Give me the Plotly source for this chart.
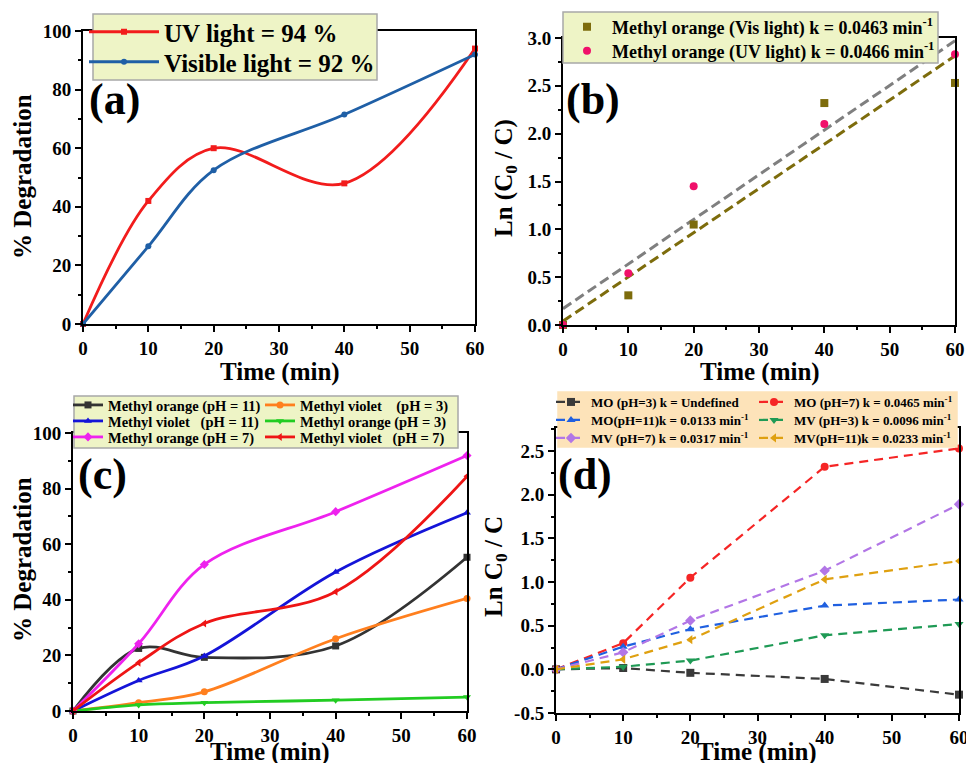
import plotly.graph_objects as go
import numpy as np

W, H = 966, 763

# ---------------- data ----------------
time = [0, 10, 20, 40, 60]

# (a) % degradation
a_uv = [0, 42, 60, 48, 94]
a_vis = [0, 26.5, 52.5, 71.5, 92]

# (b) ln(C0/C)
b_vis = [0, 0.31, 1.05, 2.32, 2.53]
b_uv = [0, 0.54, 1.45, 2.10, 2.83]

# (c) % degradation vs pH
c_mo11 = [0, 22.5, 19.3, 23.4, 55.3]
c_mv3 = [0, 3.0, 6.9, 26.0, 40.5]
c_mv11 = [0, 11.0, 19.8, 50.0, 71.3]
c_mo3 = [0, 2.2, 3.0, 3.9, 5.0]
c_mo7 = [0, 24.2, 52.7, 71.7, 91.9]
c_mv7 = [0, 17.4, 31.5, 42.9, 84.4]

# (d) ln C0/C vs pH
d_mo3 = [0, 0.015, -0.04, -0.11, -0.29]
d_mo7 = [0, 0.30, 1.05, 2.32, 2.53]
d_mo11 = [0, 0.26, 0.46, 0.73, 0.80]
d_mv3 = [0, 0.03, 0.10, 0.39, 0.52]
d_mv7 = [0, 0.195, 0.56, 1.13, 1.89]
d_mv11 = [0, 0.115, 0.34, 1.03, 1.24]

x_ticks = [0, 10, 20, 30, 40, 50, 60]
d_yticks = [-0.5, 0.0, 0.5, 1.0, 1.5, 2.0, 2.5]
d_yticktext = ["-0.5", "0.0", "0.5", "1.0", "1.5", "2.0", "2.5"]

FONT = "Times New Roman, Liberation Serif, DejaVu Serif, serif"


def dx(p0, p1):
    return [p0 / W, p1 / W]


def dy(top, bottom):
    return [1 - bottom / H, 1 - top / H]


fig = go.Figure()

# ---------------- (a) ----------------
fig.add_trace(go.Scatter(x=time, y=a_uv, mode="lines+markers", name="UV light = 94 %",
                         line=dict(color="#f21c1c", width=2.8, shape="spline"),
                         marker=dict(symbol="square", size=6, color="#f21c1c"),
                         xaxis="x", yaxis="y", legend="legend", cliponaxis=False))
fig.add_trace(go.Scatter(x=time, y=a_vis, mode="lines+markers", name="Visible light = 92 %",
                         line=dict(color="#1f5fa6", width=2.8, shape="spline"),
                         marker=dict(symbol="circle", size=6, color="#1f5fa6"),
                         xaxis="x", yaxis="y", legend="legend2", cliponaxis=False))

# ---------------- (b) ----------------
fit_x = np.array([0, 60])
k_uv, c_uv = np.polyfit(time, b_uv, 1)
k_vis, c_vis = np.polyfit(time, b_vis, 1)
fig.add_trace(go.Scatter(x=fit_x, y=k_uv * fit_x + c_uv, mode="lines", showlegend=False,
                         line=dict(color="#7f7f7f", width=3, dash="10px,5px"),
                         xaxis="x2", yaxis="y2"))
fig.add_trace(go.Scatter(x=fit_x, y=k_vis * fit_x + c_vis, mode="lines", showlegend=False,
                         line=dict(color="#7d6c0c", width=3, dash="10px,5px"),
                         xaxis="x2", yaxis="y2"))
fig.add_trace(go.Scatter(x=time, y=b_vis, mode="markers",
                         name="Methyl orange (Vis light) k = 0.0463 min<sup>-1</sup>",
                         marker=dict(symbol="square", size=8, color="#7d6c0c"),
                         xaxis="x2", yaxis="y2", legend="legend3", cliponaxis=False))
fig.add_trace(go.Scatter(x=time, y=b_uv, mode="markers",
                         name="Methyl orange (UV light) k = 0.0466 min<sup>-1</sup>",
                         marker=dict(symbol="circle", size=8, color="#f0106a"),
                         xaxis="x2", yaxis="y2", legend="legend4", cliponaxis=False))

# ---------------- (c) ----------------
c_series = [
    ("Methyl orange (pH = 11)", c_mo11, "#333333", "square", "legend5"),
    ("Methyl violet    (pH = 3)", c_mv3, "#ff7f1e", "circle", "legend5"),
    ("Methyl violet   (pH = 11)", c_mv11, "#1414d8", "triangle-up", "legend6"),
    ("Methyl orange (pH = 3)", c_mo3, "#22cc22", "triangle-down", "legend6"),
    ("Methyl orange (pH = 7)", c_mo7, "#ee22ee", "diamond", "legend7"),
    ("Methyl violet   (pH = 7)", c_mv7, "#ee1515", "triangle-left", "legend7"),
]
for name, ys, col, sym, lg in c_series:
    fig.add_trace(go.Scatter(x=time, y=ys, mode="lines+markers", name=name,
                             line=dict(color=col, width=2.8, shape="spline"),
                             marker=dict(symbol=sym, size=7, color=col),
                             xaxis="x3", yaxis="y3", legend=lg, cliponaxis=False))

# ---------------- (d) ----------------
d_series = [
    ("MO (pH=3) k = Undefined", d_mo3, "#3a3a3a", "square", "legend8"),
    ("MO (pH=7) k = 0.0465 min<sup>-1</sup>", d_mo7, "#f52525", "circle", "legend8"),
    ("MO(pH=11)k = 0.0133 min<sup>-1</sup>", d_mo11, "#2060e0", "triangle-up", "legend9"),
    ("MV (pH=3) k = 0.0096 min<sup>-1</sup>", d_mv3, "#1f9a55", "triangle-down", "legend9"),
    ("MV (pH=7) k = 0.0317 min<sup>-1</sup>", d_mv7, "#b276e6", "diamond", "legend10"),
    ("MV(pH=11)k = 0.0233 min<sup>-1</sup>", d_mv11, "#dfa010", "triangle-left", "legend10"),
]
for name, ys, col, sym, lg in d_series:
    fig.add_trace(go.Scatter(x=time, y=ys, mode="lines+markers", name=name,
                             line=dict(color=col, width=2.2, dash="9px,6px"),
                             marker=dict(symbol=sym, size=8, color=col),
                             xaxis="x4", yaxis="y4", legend=lg, cliponaxis=False))


# ---------------- axes ----------------
def xax(domain, anchor):
    return dict(domain=domain, anchor=anchor, range=[0, 60], tickvals=x_ticks,
                showline=True, linecolor="black", linewidth=2, mirror=True,
                ticks="outside", ticklen=6, tickwidth=2, tickcolor="black",
                minor=dict(dtick=5, ticks="outside", ticklen=3, tickwidth=2, tickcolor="black"),
                showgrid=False, zeroline=False, automargin=False, ticklabeloverflow="allow",
                tickfont=dict(family=FONT, size=19, color="black", weight="bold"))


def yax(domain, anchor, rng, **kw):
    d = dict(domain=domain, anchor=anchor, range=rng,
             showline=True, linecolor="black", linewidth=2, mirror=True,
             ticks="outside", ticklen=6, tickwidth=2, tickcolor="black",
             showgrid=False, zeroline=False, automargin=False, ticklabeloverflow="allow",
             tickfont=dict(family=FONT, size=19, color="black", weight="bold"))
    d.update(kw)
    return d


layout = dict(
    width=W, height=H, margin=dict(l=0, r=0, t=0, b=0, autoexpand=False),
    paper_bgcolor="white", plot_bgcolor="white",
    font=dict(family=FONT, color="black", weight="bold"),
    xaxis=xax(dx(83, 475), "y"),
    yaxis=yax(dy(31, 324), "x", [0, 100], tickvals=[0, 20, 40, 60, 80, 100],
              minor=dict(dtick=10, ticks="outside", ticklen=3, tickwidth=2, tickcolor="black")),
    xaxis2=xax(dx(563, 955), "y2"),
    yaxis2=yax(dy(38, 325), "x2", [0, 3.0], tickvals=[0, 0.5, 1.0, 1.5, 2.0, 2.5, 3.0],
               tickformat=".1f",
               minor=dict(dtick=0.25, ticks="outside", ticklen=3, tickwidth=2, tickcolor="black")),
    xaxis3=xax(dx(73, 467), "y3"),
    yaxis3=yax(dy(433, 711), "x3", [0, 100], tickvals=[0, 20, 40, 60, 80, 100],
               minor=dict(dtick=10, ticks="outside", ticklen=3, tickwidth=2, tickcolor="black")),
    xaxis4=xax(dx(556, 959), "y4"),
    yaxis4=yax(dy(428, 713), "x4", [-0.5, 2.764], tickvals=d_yticks, ticktext=d_yticktext,
               minor=dict(dtick=0.25, ticks="outside", ticklen=3, tickwidth=2, tickcolor="black")),
)


def row_leg(xpx, ypx, size, ew=None, iw=30):
    d = dict(x=xpx / W, y=1 - ypx / H, xanchor="left", yanchor="middle",
             orientation="h", bgcolor="rgba(0,0,0,0)", borderwidth=0, itemwidth=iw,
             font=dict(family=FONT, size=size, color="black", weight="bold"))
    if ew:
        d.update(entrywidth=ew, entrywidthmode="pixels")
    return d


layout["legend"] = row_leg(84, 32, 25, iw=70)
layout["legend2"] = row_leg(84, 62, 25, iw=70)
layout["legend3"] = row_leg(562, 27, 18, iw=40)
layout["legend4"] = row_leg(562, 51, 18, iw=40)
layout["legend5"] = row_leg(68, 405, 14.5, 147)
layout["legend6"] = row_leg(68, 421, 14.5, 147)
layout["legend7"] = row_leg(68, 437, 14.5, 147)
layout["legend8"] = row_leg(551, 402, 13, 158)
layout["legend9"] = row_leg(551, 420, 13, 158)
layout["legend10"] = row_leg(551, 438, 13, 158)

fig.update_layout(**layout)

# legend background boxes
for x0, x1, y0, y1, fill, lc in [(93, 377, 14, 80, "#eef4c6", "#a8a8a8"),
                                 (563, 938, 12, 63, "#eef4c6", "#a8a8a8"),
                                 (74, 458, 396, 448, "#eef4c6", "#a8a8a8"),
                                 (558, 957, 392, 447, "#fde3b9", "#fde3b9")]:
    fig.add_shape(type="rect", xref="paper", yref="paper",
                  x0=x0 / W, x1=x1 / W, y0=1 - y1 / H, y1=1 - y0 / H,
                  fillcolor=fill, line=dict(color=lc, width=1.5), layer="above")

# axis titles and panel labels
ann = []
TF = dict(family=FONT, size=25, color="black", weight="bold")
for xc, yc, txt in [(280, 372, "Time (min)"), (760, 372, "Time (min)"),
                    (270, 752, "Time (min)"), (757, 752, "Time (min)")]:
    ann.append(dict(x=xc / W, y=1 - yc / H, xref="paper", yref="paper", text=txt,
                    showarrow=False, xanchor="center", yanchor="middle", font=TF))
for xc, yc, txt in [(22, 177, "% Degradation"), (505, 178, "Ln (C<sub>0</sub> / C)"),
                    (22, 560, "% Degradation"), (495, 567, "Ln C<sub>0</sub> / C")]:
    ann.append(dict(x=xc / W, y=1 - yc / H, xref="paper", yref="paper", text=txt,
                    textangle=-90, showarrow=False, xanchor="center", yanchor="middle", font=TF))
PF = dict(family=FONT, size=44, color="black", weight="bold")
for xc, yc, txt in [(114, 100, "(a)"), (593, 100, "(b)"), (102, 474, "(c)"), (585, 474, "(d)")]:
    ann.append(dict(x=xc / W, y=1 - yc / H, xref="paper", yref="paper", text=txt,
                    showarrow=False, xanchor="center", yanchor="middle", font=PF))
fig.update_layout(annotations=ann)

fig.write_html("out.html", config={"displayModeBar": False},
               post_script="document.body.style.margin='0px';document.body.style.padding='0px';"
                           "document.body.style.overflow='hidden';")
